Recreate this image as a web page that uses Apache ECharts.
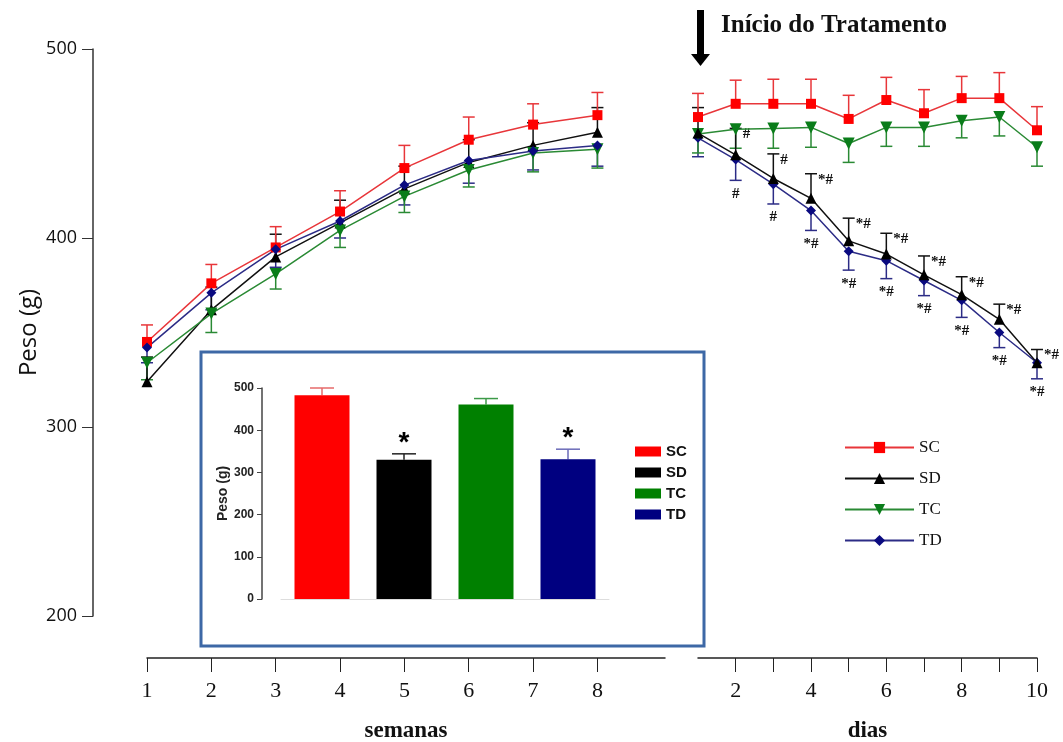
<!DOCTYPE html>
<html>
<head>
    <meta charset="utf-8">
    <title>Peso corporal</title>
    <script src="https://cdn.jsdelivr.net/npm/echarts@6/dist/echarts.min.js"></script>
</head>
<body style="margin:0;background:#fff;">
    <div id="main" style="width:1063px;height:742px;"></div>
    <script>
        // semanas (antes do tratamento) e dias (depois)
        var weeks = [1, 2, 3, 4, 5, 6, 7, 8];
        var days = [1, 2, 3, 4, 5, 6, 7, 8, 9, 10];
        var groups = ['SC', 'SD', 'TC', 'TD'];

        var scWeeks = [345, 376, 395, 414, 437, 452, 460, 465];
        var scWeeksSem = [9, 10, 11, 11, 12, 12, 11, 12];
        var sdWeeks = [324, 362, 390, 408, 426, 440, 449, 456];
        var sdWeeksSem = [13, 12, 12, 12, 12, 12, 12, 13];
        var tcWeeks = [334, 360, 381, 404, 422, 436, 445, 447];
        var tcWeeksSem = [9, 10, 8, 9, 8.5, 9, 10, 10];
        var tdWeeks = [342, 371, 394, 409, 428, 441, 446, 449];
        var tdWeeksSem = [8, 9, 9.5, 9, 10.5, 12, 10, 11];

        var scDays = [464, 471, 471, 471, 463, 473, 466, 474, 474, 457];
        var scDaysSem = [12.5, 12.5, 13, 13, 12.5, 12, 12.5, 11.5, 13.5, 12.5];
        var sdDays = [455.5, 444, 431.5, 421, 398.5, 391.5, 380.5, 370, 357, 334];
        var sdDaysSem = [13.5, 14, 13, 13, 12, 11, 10, 9.5, 8, 7];
        var tcDays = [455, 457.5, 458, 458.5, 450, 458.5, 458.5, 462, 464, 448];
        var tcDaysSem = [10, 10, 10.5, 10.5, 10, 10, 10, 9, 10, 10];
        var tdDays = [453, 441.5, 428.5, 414.5, 393, 388, 377.5, 367, 350, 334];
        var tdDaysSem = [10, 11, 10.5, 10.5, 10, 9.5, 8, 9, 8, 8.5];

        var sdMarks = ['', '#', '#', '*#', '*#', '*#', '*#', '*#', '*#', '*#'];
        var tdMarks = ['', '#', '#', '*#', '*#', '*#', '*#', '*#', '*#', '*#'];

        // grafico de barras (inserto)
        var insetMeans = [483, 330, 461, 331];
        var insetSem = [17, 14, 14, 24];
        var insetMarks = ['', '*', '', '*'];

        var lineColors = {SC: '#e8363a', SD: '#111111', TC: '#2a8a34', TD: '#2c2c86'};
        var symColors = {SC: '#ff0000', SD: '#000000', TC: '#0a7d1a', TD: '#0a0a80'};
        var barColors = ['#ff0000', '#000000', '#008000', '#000080'];
        var insetCapColors = ['#e66a6a', '#222222', '#3c9a48', '#6a6ab8'];

        var myChart = echarts.init(document.getElementById('main'));

        function pairs(xs, ys) {
            return xs.map(function (x, i) { return [x, ys[i]]; });
        }

        function errorSeries(axisIdx, xs, means, sems, sign, color, marks, side) {
            return {
                type: 'custom', xAxisIndex: axisIdx, yAxisIndex: axisIdx, z: 2, silent: true,
                data: xs.map(function (x, i) { return [x, means[i], means[i] + sign * sems[i]]; }),
                renderItem: function (params, api) {
                    var a = api.coord([api.value(0), api.value(1)]);
                    var b = api.coord([api.value(0), api.value(2)]);
                    var kids = [
                        {type: 'line', shape: {x1: a[0], y1: a[1], x2: b[0], y2: b[1]}, style: {stroke: color, lineWidth: 1.5}},
                        {type: 'line', shape: {x1: b[0] - 6, y1: b[1], x2: b[0] + 6, y2: b[1]}, style: {stroke: color, lineWidth: 1.5}}
                    ];
                    var m = marks ? marks[params.dataIndex] : '';
                    if (m) {
                        kids.push({
                            type: 'text',
                            x: side === 'right' ? b[0] + 7 : b[0],
                            y: side === 'right' ? b[1] + 6 : b[1] + 6,
                            style: {
                                text: m, fill: '#111', fontSize: 15, fontWeight: 'bold', fontFamily: 'Liberation Serif',
                                align: side === 'right' ? 'left' : 'center',
                                verticalAlign: side === 'right' ? 'middle' : 'top'
                            }
                        });
                    }
                    return {type: 'group', children: kids};
                }
            };
        }

        function lineSeries(name, axisIdx, xs, ys, symbol, size, rotate) {
            return {
                name: name, type: 'line', xAxisIndex: axisIdx, yAxisIndex: axisIdx, z: 4,
                data: pairs(xs, ys),
                symbol: symbol, symbolSize: size, symbolRotate: rotate || 0,
                lineStyle: {color: lineColors[name], width: 1.5},
                itemStyle: {color: symColors[name]}
            };
        }

        var series = [
            errorSeries(0, weeks, tdWeeks, tdWeeksSem, -1, lineColors.TD),
            errorSeries(0, weeks, tcWeeks, tcWeeksSem, -1, lineColors.TC),
            errorSeries(0, weeks, sdWeeks, sdWeeksSem, 1, lineColors.SD),
            errorSeries(0, weeks, scWeeks, scWeeksSem, 1, lineColors.SC),
            errorSeries(1, days, tdDays, tdDaysSem, -1, lineColors.TD, tdMarks, 'below'),
            errorSeries(1, days, tcDays, tcDaysSem, -1, lineColors.TC),
            errorSeries(1, days, sdDays, sdDaysSem, 1, lineColors.SD, sdMarks, 'right'),
            errorSeries(1, days, scDays, scDaysSem, 1, lineColors.SC),
            lineSeries('SC', 0, weeks, scWeeks, 'rect', 10),
            lineSeries('SD', 0, weeks, sdWeeks, 'triangle', 11),
            lineSeries('TC', 0, weeks, tcWeeks, 'triangle', 12, 180),
            lineSeries('TD', 0, weeks, tdWeeks, 'diamond', 10),
            lineSeries('TD', 1, days, tdDays, 'diamond', 10),
            lineSeries('TC', 1, days, tcDays, 'triangle', 12, 180),
            lineSeries('SD', 1, days, sdDays, 'triangle', 11),
            lineSeries('SC', 1, days, scDays, 'rect', 10)
        ];

        groups.forEach(function (g, i) {
            series.push({
                name: 'Inset ' + g, type: 'bar', xAxisIndex: 2, yAxisIndex: 2, z: 6,
                barWidth: 55, barGap: '-100%',
                itemStyle: {color: barColors[i]},
                data: groups.map(function (c, j) { return j === i ? insetMeans[i] : '-'; })
            });
        });

        series.push({
            type: 'custom', xAxisIndex: 2, yAxisIndex: 2, z: 5, silent: true,
            data: insetMeans.map(function (v, i) { return [i, v, v + insetSem[i]]; }),
            renderItem: function (params, api) {
                var i = params.dataIndex;
                var a = api.coord([api.value(0), api.value(1)]);
                var b = api.coord([api.value(0), api.value(2)]);
                var kids = [
                    {type: 'line', shape: {x1: a[0], y1: a[1], x2: b[0], y2: b[1]}, style: {stroke: insetCapColors[i], lineWidth: 1.5}},
                    {type: 'line', shape: {x1: b[0] - 12, y1: b[1], x2: b[0] + 12, y2: b[1]}, style: {stroke: insetCapColors[i], lineWidth: 1.5}}
                ];
                if (insetMarks[i]) {
                    kids.push({
                        type: 'text', x: b[0], y: b[1] - 11,
                        style: {text: insetMarks[i], fill: '#000', fontSize: 28, fontWeight: 'bold', fontFamily: 'Liberation Sans', align: 'center', verticalAlign: 'middle'}
                    });
                }
                return {type: 'group', children: kids};
            }
        });

        var serifLabel = {fontFamily: 'Liberation Serif', fontSize: 22, color: '#111', margin: 22};
        var serifName = {fontFamily: 'Liberation Serif', fontSize: 23, fontWeight: 'bold', color: '#111'};

        myChart.setOption({
            animation: false,
            title: {
                text: 'Início do Tratamento', left: 716, top: 8,
                textStyle: {fontFamily: 'Liberation Serif', fontSize: 25, fontWeight: 'bold', color: '#111'}
            },
            legend: [{
                data: groups, left: 844, top: 439, orient: 'vertical', selectedMode: false, padding: 0,
                itemWidth: 69, itemHeight: 14, itemGap: 14,
                textStyle: {fontFamily: 'Liberation Serif', fontSize: 17, color: '#111'}
            }, {
                data: groups.map(function (g) { return 'Inset ' + g; }),
                formatter: function (n) { return n.replace('Inset ', ''); },
                left: 635, top: 444, orient: 'vertical', selectedMode: false, icon: 'rect', padding: 0,
                itemWidth: 26, itemHeight: 10, itemGap: 6,
                textStyle: {fontFamily: 'Liberation Sans', fontSize: 15, fontWeight: 'bold', color: '#111'}
            }],
            graphic: [
                {type: 'rect', z: -10, shape: {x: 201, y: 352, width: 503, height: 294},
                 style: {fill: '#fff', stroke: '#3d68a6', lineWidth: 3}},
                {type: 'rect', shape: {x: 697, y: 10, width: 7, height: 46}, style: {fill: '#000'}},
                {type: 'polygon', shape: {points: [[691, 54], [710, 54], [700.5, 66]]}, style: {fill: '#000'}}
            ],
            grid: [
                {left: 147, right: 398, top: 49, bottom: 126, outerBoundsMode: 'none'},
                {left: 698, right: 26, top: 49, bottom: 126, outerBoundsMode: 'none'},
                {left: 281, right: 454, top: 388, bottom: 143, outerBoundsMode: 'none'}
            ],
            xAxis: [{
                gridIndex: 0, type: 'value', min: 1, max: 9.05, interval: 1, offset: 42,
                axisLine: {lineStyle: {color: '#222', width: 1.5}},
                axisTick: {length: 14, lineStyle: {color: '#222'}, customValues: weeks},
                axisLabel: Object.assign({customValues: weeks}, serifLabel),
                splitLine: {show: false},
                name: 'semanas', nameLocation: 'middle', nameGap: 62, nameTextStyle: serifName
            }, {
                gridIndex: 1, type: 'value', min: 1, max: 10, interval: 1, offset: 42,
                axisLine: {lineStyle: {color: '#222', width: 1.5}},
                axisTick: {length: 14, lineStyle: {color: '#222'}, customValues: days.slice(1)},
                axisLabel: Object.assign({customValues: [2, 4, 6, 8, 10]}, serifLabel),
                splitLine: {show: false},
                name: 'dias', nameLocation: 'middle', nameGap: 62, nameTextStyle: serifName
            }, {
                gridIndex: 2, type: 'category', data: groups, offset: 17,
                axisLine: {lineStyle: {color: '#dddddd', width: 1}},
                axisTick: {show: false}, axisLabel: {show: false}
            }],
            yAxis: [{
                gridIndex: 0, type: 'value', min: 200, max: 500, interval: 100, offset: 54,
                axisLine: {show: true, lineStyle: {color: '#333', width: 1.5}},
                axisTick: {show: true, length: 11, lineStyle: {color: '#333'}},
                axisLabel: {fontFamily: 'Open Sans', fontSize: 18, color: '#111', margin: 16},
                splitLine: {show: false},
                name: 'Peso (g)', nameLocation: 'middle', nameGap: 52,
                nameTextStyle: {fontFamily: 'Open Sans', fontSize: 24, color: '#111'}
            }, {
                gridIndex: 1, type: 'value', min: 200, max: 500, show: false
            }, {
                gridIndex: 2, type: 'value', min: 0, max: 500, interval: 100, offset: 19,
                axisLine: {show: true, lineStyle: {color: '#444', width: 1.5}},
                axisTick: {show: true, length: 5, lineStyle: {color: '#444'}},
                axisLabel: {fontFamily: 'Liberation Sans', fontSize: 12, fontWeight: 'bold', color: '#222', margin: 8},
                splitLine: {show: false},
                name: 'Peso (g)', nameLocation: 'middle', nameGap: 32,
                nameTextStyle: {fontFamily: 'Liberation Sans', fontSize: 14, fontWeight: 'bold', color: '#222'}
            }],
            series: series
        });
    </script>
</body>
</html>
